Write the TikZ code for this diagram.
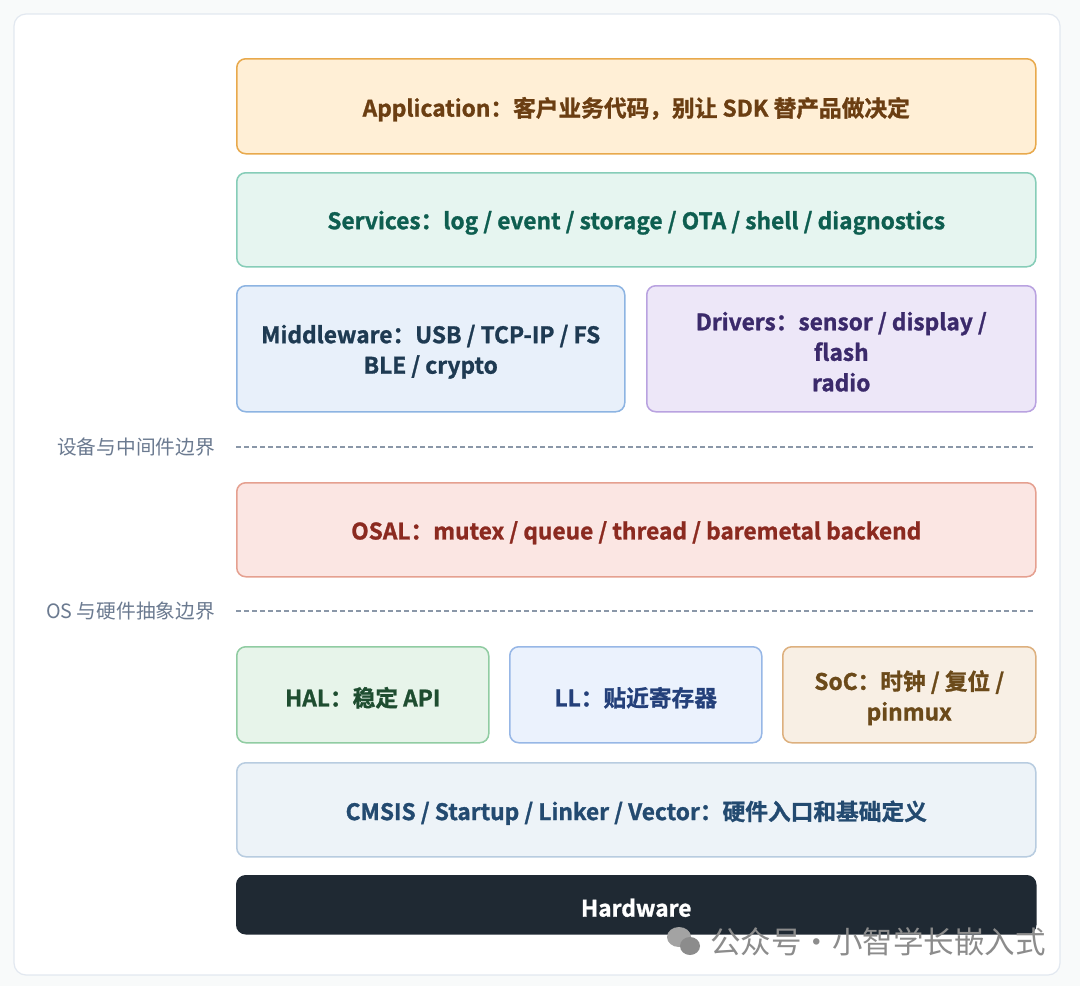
\documentclass[tikz,border=0pt]{standalone}
\usepackage{fontspec}
\setmainfont{Noto Sans CJK SC}[BoldFont={Noto Sans CJK SC Bold}, BoldFeatures={FakeBold=1.2}]
\definecolor{pagebg}{HTML}{F8FAFA}
\definecolor{panelline}{HTML}{E2E8F0}
\definecolor{appfill}{HTML}{FFEFD6}\definecolor{appline}{HTML}{E8A94C}\definecolor{apptext}{HTML}{6B3E12}
\definecolor{svcfill}{HTML}{E6F5F0}\definecolor{svcline}{HTML}{86CDB8}\definecolor{svctext}{HTML}{0E5E50}
\definecolor{midfill}{HTML}{E8F0FA}\definecolor{midline}{HTML}{8DB4E2}\definecolor{midtext}{HTML}{1E3A52}
\definecolor{drvfill}{HTML}{EDE7F8}\definecolor{drvline}{HTML}{B9A2E0}\definecolor{drvtext}{HTML}{3B2A6B}
\definecolor{osfill}{HTML}{FBE6E3}\definecolor{osline}{HTML}{E5A090}\definecolor{ostext}{HTML}{8B2A20}
\definecolor{halfill}{HTML}{E7F4EA}\definecolor{halline}{HTML}{90CCA2}\definecolor{haltext}{HTML}{1E4D30}
\definecolor{llfill}{HTML}{EBF2FD}\definecolor{llline}{HTML}{97B7E6}\definecolor{lltext}{HTML}{24407A}
\definecolor{socfill}{HTML}{F8EFE4}\definecolor{socline}{HTML}{DDB07E}\definecolor{soctext}{HTML}{6B4A1A}
\definecolor{cmfill}{HTML}{EDF3F8}\definecolor{cmline}{HTML}{B8CCE0}\definecolor{cmtext}{HTML}{234A70}
\definecolor{hwfill}{HTML}{1F2933}
\definecolor{bndline}{HTML}{8A97A8}\definecolor{bndtext}{HTML}{6B7A90}
\definecolor{wmark}{HTML}{8C8C8C}
\tikzset{
  layer/.style={draw, line width=1.5pt, rounded corners=9pt, anchor=north west, inner sep=0pt},
  ltext/.style={align=center, font=\bfseries\fontsize{22.7}{30.5}\selectfont, inner sep=0pt, yshift=-3pt},
  bndlabel/.style={anchor=east, text=bndtext, font=\fontsize{19.7}{22}\selectfont, inner sep=0pt},
  bnd/.style={draw=bndline, line width=1.3pt, dash pattern=on 5pt off 3pt},
}
\begin{document}
\begin{tikzpicture}[x=1pt,y=1pt]
\useasboundingbox (0,0) rectangle (1080,-986);
\fill[pagebg] (0,0) rectangle (1080,-986);
\draw[panelline, fill=white, line width=1.2pt, rounded corners=12pt] (14,-14) rectangle (1060,-975);

\node[layer, fill=appfill, draw=appline, minimum width=799pt, minimum height=95pt] (app) at (236,-58) {};
\node[ltext, text=apptext] (appt) at (app.center) {Application：客户业务代码，别让 SDK 替产品做决定};
\node[layer, fill=svcfill, draw=svcline, minimum width=799pt, minimum height=94pt] (svc) at (236,-172) {};
\node[ltext, text=svctext] (svct) at (svc.center) {Services：log / event / storage / OTA / shell / diagnostics};
\node[layer, fill=midfill, draw=midline, minimum width=388pt, minimum height=126pt] (mid) at (236,-285) {};
\node[ltext, text=midtext] (midt) at (mid.center) {Middleware：USB / TCP-IP / FS\\BLE / crypto};
\node[layer, fill=drvfill, draw=drvline, minimum width=389pt, minimum height=126pt] (drv) at (646,-285) {};
\node[ltext, text=drvtext] (drvt) at (drv.center) {Drivers：sensor / display /\\flash\\radio};

\node[bndlabel] (b1) at (215,-447) {设备与中间件边界};
\coordinate (b1s) at (236,-447);
\coordinate (b1e) at (1035,-447);
\draw[bnd] (b1s) -- (b1e);

\node[layer, fill=osfill, draw=osline, minimum width=799pt, minimum height=94pt] (osal) at (236,-482) {};
\node[ltext, text=ostext] (osalt) at (osal.center) {OSAL：mutex / queue / thread / baremetal backend};

\node[bndlabel] (b2) at (215,-611) {OS 与硬件抽象边界};
\coordinate (b2s) at (236,-611);
\coordinate (b2e) at (1035,-611);
\draw[bnd] (b2s) -- (b2e);

\node[layer, fill=halfill, draw=halline, minimum width=252pt, minimum height=96pt] (hal) at (236,-646) {};
\node[ltext, text=haltext] (halt) at (hal.center) {HAL：稳定 API};
\node[layer, fill=llfill, draw=llline, minimum width=252pt, minimum height=96pt] (ll) at (509,-646) {};
\node[ltext, text=lltext] (llt) at (ll.center) {LL：贴近寄存器};
\node[layer, fill=socfill, draw=socline, minimum width=253pt, minimum height=96pt] (soc) at (782,-646) {};
\node[ltext, text=soctext] (soct) at (soc.center) {SoC：时钟 / 复位 /\\pinmux};

\node[layer, fill=cmfill, draw=cmline, minimum width=799pt, minimum height=94pt] (cm) at (236,-762) {};
\node[ltext, text=cmtext] (cmt) at (cm.center) {CMSIS / Startup / Linker / Vector：硬件入口和基础定义};
\node[layer, fill=hwfill, draw=hwfill, minimum width=799pt, minimum height=58pt] (hw) at (236,-875) {};
\node[ltext, text=white] (hwt) at (hw.center) {Hardware};

% watermark
\fill[wmark!80] (679,-937) ellipse (12pt and 10pt);
\fill[wmark] (690,-946) ellipse (10pt and 9pt);
\node[anchor=west, text=wmark, font=\fontsize{30.5}{33}\selectfont, inner sep=0pt] (wm) at (710,-942)
  {公众号·小智学长嵌入式};
\end{tikzpicture}
\end{document}
